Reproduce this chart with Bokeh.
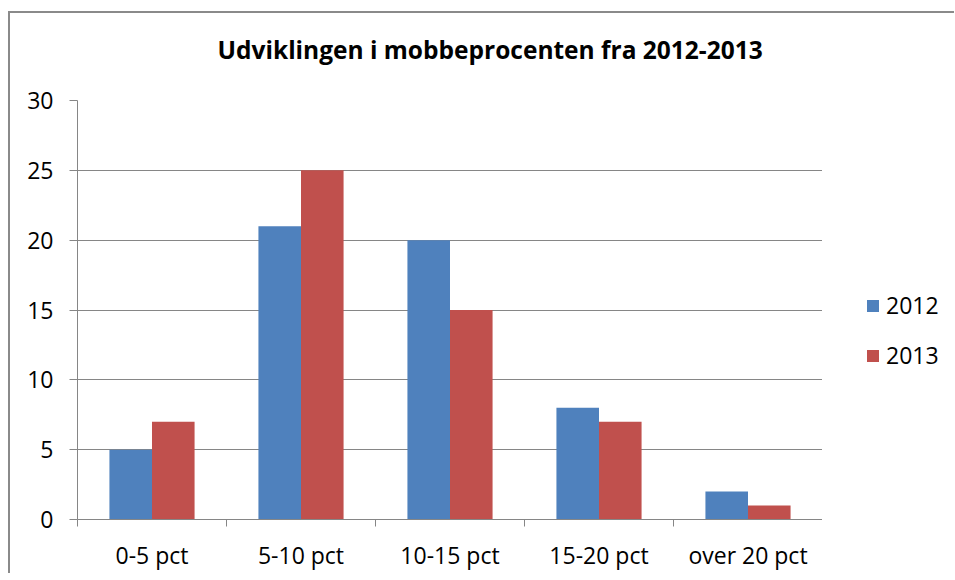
from bokeh.plotting import figure
from bokeh.layouts import row, column
from bokeh.models import (ColumnDataSource, FactorRange, Range1d, LinearAxis, FixedTicker,
                          Legend, LegendItem)
from bokeh.transform import dodge
from bokeh.embed import file_html
from bokeh.resources import INLINE

categories = ["0-5 pct", "5-10 pct", "10-15 pct", "15-20 pct", "over 20 pct"]
series_names = ["2012", "2013"]
values_2012 = [5, 21, 20, 8, 2]
values_2013 = [7, 25, 15, 7, 1]
y_ticks = [0, 5, 10, 15, 20, 25, 30]
title_text = "Udviklingen i mobbeprocenten fra 2012-2013"

FONT = "Open Sans"
GRAY = "#868686"
BLUE = "#4F81BD"
RED = "#C0504D"
LABEL_SIZE = "23px"

source = ColumnDataSource(dict(cat=categories, v2012=values_2012, v2013=values_2013))

# Title strip (holds only the chart title)
tp = figure(width=944, height=72, output_backend="svg", toolbar_location=None,
            x_axis_type=None, y_axis_type=None, min_border=0)
tp.outline_line_color = None
tp.grid.visible = False
tp.border_fill_color = "white"
tp.title.text = title_text
tp.title.text_font = FONT
tp.title.text_font_style = "bold"
tp.title.text_font_size = "24.5px"
tp.title.text_color = "black"
tp.title.align = "left"
tp.title.offset = 207
tp.title.standoff = 34

# Main plot
p = figure(x_range=FactorRange(*categories, range_padding=0), y_range=Range1d(0, 30),
           width=812, height=488, output_backend="svg", toolbar_location=None,
           x_axis_type=None, title=None, min_border_left=67, min_border_right=0,
           min_border_top=15, min_border_bottom=54)
p.outline_line_color = None
p.background_fill_color = "white"
p.border_fill_color = "white"

bw = 1 / 3.5
r1 = p.vbar(x=dodge("cat", -bw / 2, range=p.x_range), top="v2012", width=bw,
            source=source, fill_color=BLUE, line_color=None)
r2 = p.vbar(x=dodge("cat", bw / 2, range=p.x_range), top="v2013", width=bw,
            source=source, fill_color=RED, line_color=None)

# X axis: tick marks at category boundaries, labels at centers
n = len(categories)
xaxis = LinearAxis(
    ticker=FixedTicker(ticks=[i + 0.5 for i in range(n)], minor_ticks=list(range(n + 1))),
    major_label_overrides={i + 0.5: c for i, c in enumerate(categories)},
)
xaxis.axis_line_color = GRAY
xaxis.major_tick_line_color = None
xaxis.major_tick_out = 0
xaxis.major_tick_in = 0
xaxis.minor_tick_line_color = GRAY
xaxis.minor_tick_out = 7
xaxis.minor_tick_in = 0
xaxis.major_label_standoff = 12
xaxis.major_label_text_font = FONT
xaxis.major_label_text_font_size = LABEL_SIZE
xaxis.major_label_text_color = "black"
p.add_layout(xaxis, "below")

# Y axis
p.yaxis.ticker = FixedTicker(ticks=y_ticks)
p.yaxis.axis_line_color = GRAY
p.yaxis.major_tick_line_color = GRAY
p.yaxis.major_tick_out = 8
p.yaxis.major_tick_in = 0
p.yaxis.minor_tick_line_color = None
p.yaxis.major_label_standoff = 16
p.yaxis.major_label_text_font = FONT
p.yaxis.major_label_text_font_size = LABEL_SIZE
p.yaxis.major_label_text_color = "black"

p.ygrid.ticker = FixedTicker(ticks=y_ticks)
p.ygrid.grid_line_color = GRAY
p.xgrid.visible = False

# Legend panel (separate figure to the right of the plot area)
lp = figure(width=132, height=488, output_backend="svg", toolbar_location=None,
            x_axis_type=None, y_axis_type=None, title=None, min_border=0)
lp.outline_line_color = None
lp.grid.visible = False
lp.border_fill_color = "white"
lr1 = lp.vbar(x=[0], top=[1], width=1, fill_color=BLUE, line_color=None, visible=False)
lr2 = lp.vbar(x=[0], top=[1], width=1, fill_color=RED, line_color=None, visible=False)

legend = Legend(
    items=[LegendItem(label=series_names[0], renderers=[lr1]),
           LegendItem(label=series_names[1], renderers=[lr2])],
    location=(43, 148), orientation="vertical",
    glyph_width=15, glyph_height=15, label_height=26, spacing=18,
    padding=0, margin=0, border_line_color=None, background_fill_alpha=0,
    inactive_fill_alpha=0,
    label_text_font=FONT, label_text_font_size=LABEL_SIZE, label_text_color="black",
    label_standoff=6,
)
lp.add_layout(legend, "center")

layout = column(tp, row(p, lp, spacing=0), spacing=0)
layout.margin = (11, 0, 0, 8)
layout.styles = {"border-left": "2px solid #8a8a8a", "border-top": "2px solid #8a8a8a"}

html = file_html(layout, INLINE, title="Udviklingen i mobbeprocenten")
open("out.html", "w").write(html)
